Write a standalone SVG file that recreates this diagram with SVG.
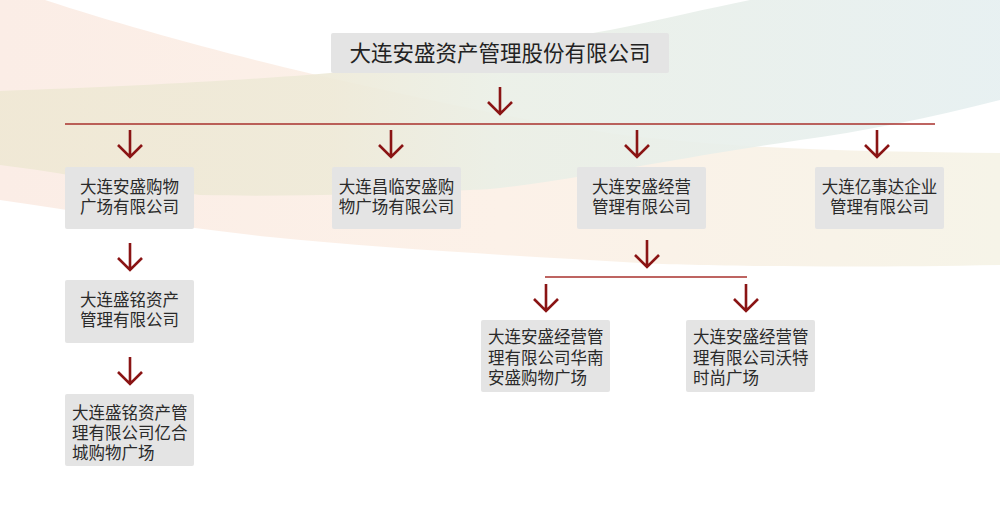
<svg xmlns="http://www.w3.org/2000/svg" xmlns:xlink="http://www.w3.org/1999/xlink" width="1000" height="519" viewBox="0 0 1000 519">
<style>
.box{fill:#e4e4e4}
.t{font-family:"Noto Sans CJK SC","Noto Sans",sans-serif;font-size:16.5px;fill:#2a2a2a}
.tt{font-family:"Noto Sans CJK SC","Noto Sans",sans-serif;font-size:21.5px;fill:#222}
.hl{stroke:#a8302c;stroke-width:1.3;fill:none}
.arr{stroke:#8a1414;stroke-width:2.6;fill:none}
</style>
<defs>
<linearGradient id="gp" x1="0" y1="0" x2="1" y2="0">
<stop offset="0" stop-color="#fbede6"/>
<stop offset="0.5" stop-color="#fcf1e8"/>
<stop offset="1" stop-color="#f6f4e8"/>
</linearGradient>
<linearGradient id="gb" x1="0" y1="0" x2="1" y2="0">
<stop offset="0" stop-color="#efe8d4"/>
<stop offset="0.33" stop-color="#eeead8"/>
<stop offset="0.5" stop-color="#eaefe6"/>
<stop offset="1" stop-color="#e5eff0"/>
</linearGradient>
<path id="arr" class="arr" d="M0,0 V27 M-12,15 L0,27 L12,15"/>
</defs>
<rect width="1000" height="519" fill="#ffffff"/>
<g id="background">
<path d="M0,0 L45,0 C130,28 250,60 330,78 C450,105 560,128 640,137 C760,150 880,152 1000,153 L1000,265 C850,268 700,266 640,263 C500,255 380,248 270,237 C170,226 80,212 0,200 Z" fill="url(#gp)"/>
<path d="M750,0 L1000,0 L1000,100 C930,118 860,132 800,140 C720,152 640,166 577,177 C520,186 490,190 470,190 C380,194 280,197 200,195 C120,185 60,172 0,165 L0,91 C120,87 250,80 330,73 C430,60 520,46 610,30 C660,20 710,8 750,0 Z" fill="url(#gb)" opacity="0.9"/>
</g>
<g id="connectors">
<use xlink:href="#arr" x="500" y="87"/>
<line class="hl" x1="65" y1="124" x2="935" y2="124"/>
<use xlink:href="#arr" x="130" y="130"/>
<use xlink:href="#arr" x="391" y="130"/>
<use xlink:href="#arr" x="637" y="130"/>
<use xlink:href="#arr" x="877" y="130"/>
<use xlink:href="#arr" x="130" y="243"/>
<use xlink:href="#arr" x="130" y="357"/>
<use xlink:href="#arr" x="647" y="240"/>
<line class="hl" x1="545" y1="277" x2="747" y2="277"/>
<use xlink:href="#arr" x="546" y="284"/>
<use xlink:href="#arr" x="746" y="284"/>
</g>
<g id="n0">
<rect class="box" x="331" y="33" width="338" height="40" rx="2"/>
<text class="tt" x="500" y="60.5" text-anchor="middle">大连安盛资产管理股份有限公司</text>
</g>
<g id="n1">
<rect class="box" x="65" y="167" width="129" height="62" rx="2"/>
<text class="t" x="129.5" y="193" text-anchor="middle">大连安盛购物</text>
<text class="t" x="129.5" y="213" text-anchor="middle">广场有限公司</text>
</g>
<g id="n2">
<rect class="box" x="332" y="167" width="129" height="62" rx="2"/>
<text class="t" x="396.5" y="193" text-anchor="middle">大连昌临安盛购</text>
<text class="t" x="396.5" y="213" text-anchor="middle">物广场有限公司</text>
</g>
<g id="n3">
<rect class="box" x="577" y="167" width="129" height="62" rx="2"/>
<text class="t" x="641.5" y="193" text-anchor="middle">大连安盛经营</text>
<text class="t" x="641.5" y="213" text-anchor="middle">管理有限公司</text>
</g>
<g id="n4">
<rect class="box" x="815" y="167" width="129" height="62" rx="2"/>
<text class="t" x="879.5" y="193" text-anchor="middle">大连亿事达企业</text>
<text class="t" x="879.5" y="213" text-anchor="middle">管理有限公司</text>
</g>
<g id="n5">
<rect class="box" x="65" y="280" width="129" height="63" rx="2"/>
<text class="t" x="129.5" y="306" text-anchor="middle">大连盛铭资产</text>
<text class="t" x="129.5" y="326" text-anchor="middle">管理有限公司</text>
</g>
<g id="n6">
<rect class="box" x="65" y="394" width="129" height="72" rx="2"/>
<text class="t" x="72" y="419">大连盛铭资产管</text>
<text class="t" x="72" y="439">理有限公司亿合</text>
<text class="t" x="72" y="459">城购物广场</text>
</g>
<g id="n7">
<rect class="box" x="481" y="320" width="129" height="72" rx="2"/>
<text class="t" x="488" y="343">大连安盛经营管</text>
<text class="t" x="488" y="363.5">理有限公司华南</text>
<text class="t" x="488" y="384">安盛购物广场</text>
</g>
<g id="n8">
<rect class="box" x="686" y="320" width="129" height="72" rx="2"/>
<text class="t" x="693" y="343">大连安盛经营管</text>
<text class="t" x="693" y="363.5">理有限公司沃特</text>
<text class="t" x="693" y="384">时尚广场</text>
</g>
</svg>
